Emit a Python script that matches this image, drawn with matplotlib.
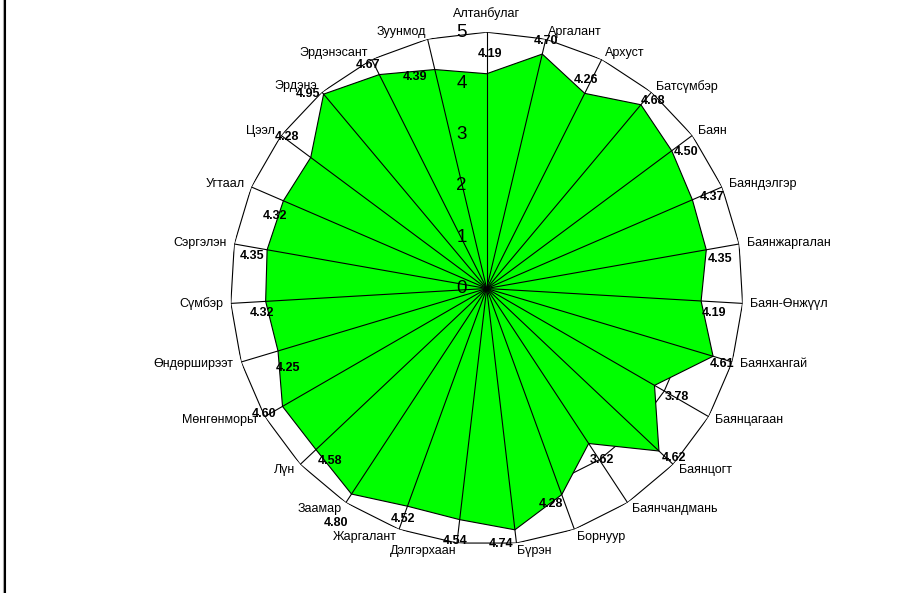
import matplotlib
matplotlib.use("Agg")
import matplotlib.pyplot as plt
import numpy as np
from matplotlib.lines import Line2D

plt.rcParams["font.family"] = ["Liberation Sans", "DejaVu Sans"]

# Data: soum names and scores (clockwise from top)
CATEGORIES = [
    "Алтанбулаг", "Аргалант", "Архуст", "Батсүмбэр", "Баян", "Баяндэлгэр",
    "Баянжаргалан", "Баян-Өнжүүл", "Баянхангай", "Баянцагаан", "Баянцогт",
    "Баянчандмань", "Борнуур", "Бүрэн", "Дэлгэрхаан", "Жаргалант", "Заамар",
    "Лүн", "Мөнгөнморьт", "Өндөрширээт", "Сүмбэр", "Сэргэлэн", "Угтаал",
    "Цээл", "Эрдэнэ", "Эрдэнэсант", "Зуунмод",
]
VALUES = [
    4.19, 4.70, 4.26, 4.68, 4.50, 4.37, 4.35, 4.19, 4.61, 3.78, 4.62, 3.62,
    4.28, 4.74, 4.54, 4.52, 4.80, 4.58, 4.60, 4.25, 4.32, 4.35, 4.32, 4.28,
    4.95, 4.67, 4.39,
]
RINGS = [1, 2, 3, 4, 5]

# Manual placement of value labels (pixel offsets from each vertex)
LABEL_OFFSETS = [
    (3, 20), (4, 13), (1, 13), (12, 4), (14, -1), (20, 3), (14, -9),
    (13, -12), (9, -8), (22, -12), (15, -7), (13, -16), (-11, -9),
    (-14, -14), (-5, -21), (-4, -13), (-15, -29), (14, -11), (-18, -8),
    (10, -17), (-4, -12), (-15, -6), (-8, -15), (-24, 20), (-16, 0),
    (-11, 10), (-20, -7),
]

n = len(CATEGORIES)
angles = np.linspace(0, 2 * np.pi, n, endpoint=False)
closed = np.append(angles, angles[0])

fig = plt.figure(figsize=(9.19, 5.93), dpi=100)
ax = fig.add_axes([0.2507, 0.0813, 0.5578, 0.8644], projection="polar")
ax.set_theta_zero_location("N")
ax.set_theta_direction(-1)
ax.set_ylim(0, 5)
ax.grid(False)
ax.set_xticks([])
ax.set_yticks([])
ax.spines["polar"].set_visible(False)
ax.patch.set_visible(False)

# polygon rings (inner ones sit under the fill)
for r in RINGS:
    ax.plot(closed, [r] * len(closed), color="black", lw=0.8,
            zorder=4 if r == 5 else 1)

vals = np.append(VALUES, VALUES[0])
ax.fill(closed, vals, facecolor="#00ff00", edgecolor="black", lw=0.8, zorder=2)

# spokes
for a in angles:
    ax.plot([a, a], [0, 5], color="black", lw=0.8, zorder=3)

# radial scale labels
for r in [0] + RINGS:
    ax.annotate(str(r), xy=(0, r), xytext=(-25, 0), textcoords="offset pixels",
                ha="center", va="center", fontsize=13.5, zorder=5)

# value labels
for a, v, off in zip(angles, VALUES, LABEL_OFFSETS):
    ax.annotate(f"{v:.2f}", xy=(a, v), xytext=off, textcoords="offset pixels",
                ha="center", va="center", fontsize=9, fontweight="bold", zorder=6)

# category labels
for a, name in zip(angles, CATEGORIES):
    if np.isclose(a, 0):
        ax.text(a, 5.36, name, ha="center", va="center", fontsize=9)
    else:
        ha = "left" if a < np.pi else "right"
        ax.text(a, 5.15, name, ha=ha, va="center", fontsize=9)

# left border line
fig.add_artist(Line2D([3 / 919, 3 / 919], [0, 1], transform=fig.transFigure,
                      color="#b0b0b0", lw=0.8))
fig.add_artist(Line2D([5 / 919, 5 / 919], [0, 1], transform=fig.transFigure,
                      color="black", lw=1.5))

fig.savefig("out.png", dpi=100)
